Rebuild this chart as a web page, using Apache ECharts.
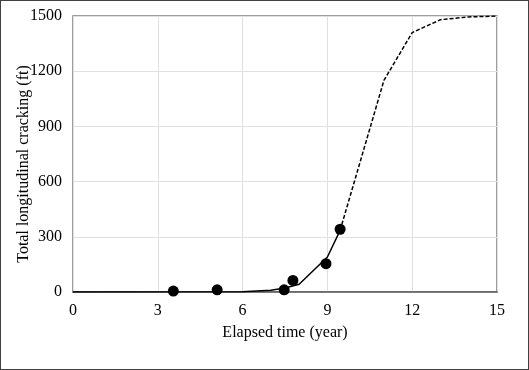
<!DOCTYPE html>
<html><head><meta charset="utf-8">
<script src="https://cdn.jsdelivr.net/npm/echarts@6/dist/echarts.min.js"></script>
<style>html,body{margin:0;padding:0;background:#fff}#c{width:529px;height:370px;box-sizing:border-box;border:1.5px solid #404040}</style>
</head><body><div id="c"></div>
<script>
const measuredX = [3.55, 5.1, 7.47, 7.78, 8.95, 9.45];
const measuredY = [5, 12, 12, 63, 154, 341];
const calibX = [0, 6, 7, 7.5, 8, 9, 9.45];
const calibY = [0, 2, 10, 22, 42, 190, 335];
const predX = [9.45, 11, 12, 13, 14, 15];
const predY = [335, 1150, 1410, 1480, 1495, 1500];
const xTicks = [0, 3, 6, 9, 12, 15];
const yTicks = [0, 300, 600, 900, 1200, 1500];

const zip = (a, b) => a.map((v, i) => [v, b[i]]);
const font = "'Liberation Serif', 'Times New Roman', serif";
const chart = echarts.init(document.getElementById('c'));
chart.setOption({
  animation: false,
  grid: {left: 72, right: 31, top: 15, bottom: 77, show: true, borderColor: '#7f7f7f', borderWidth: 1.5, containLabel: false, outerBoundsMode: 'none'},
  xAxis: {
    type: 'value', min: xTicks[0], max: xTicks[xTicks.length - 1], interval: 3,
    name: 'Elapsed time (year)', nameLocation: 'middle', nameGap: 33, nameMoveOverlap: false,
    nameTextStyle: {fontFamily: font, fontSize: 16, color: '#000'},
    axisLine: {show: true, lineStyle: {color: '#595959', width: 1.5}},
    axisTick: {show: false},
    axisLabel: {fontFamily: font, fontSize: 16, color: '#000', margin: 11, formatter: v => String(v)},
    splitLine: {show: true, lineStyle: {color: '#e0e0e0', width: 1}}
  },
  yAxis: {
    type: 'value', min: yTicks[0], max: yTicks[yTicks.length - 1], interval: 300,
    name: 'Total longitudinal cracking (ft)', nameLocation: 'middle', nameGap: 41, nameMoveOverlap: false,
    nameTextStyle: {fontFamily: font, fontSize: 16, color: '#000', padding: [0, 20, 0, 0]},
    axisLine: {show: false},
    axisTick: {show: false},
    axisLabel: {fontFamily: font, fontSize: 16, color: '#000', margin: 11, formatter: v => String(v)},
    splitLine: {show: true, lineStyle: {color: '#e0e0e0', width: 1}}
  },
  series: [
    {type: 'line', data: zip(calibX, calibY), showSymbol: false, lineStyle: {color: '#000', width: 1.5}, z: 3},
    {type: 'line', data: zip(predX, predY), showSymbol: false, lineStyle: {color: '#000', width: 1.5, type: [4, 2]}, z: 3},
    {type: 'scatter', data: zip(measuredX, measuredY), symbol: 'circle', symbolSize: 11, itemStyle: {color: '#000', opacity: 1}, z: 4}
  ]
});
</script></body></html>
